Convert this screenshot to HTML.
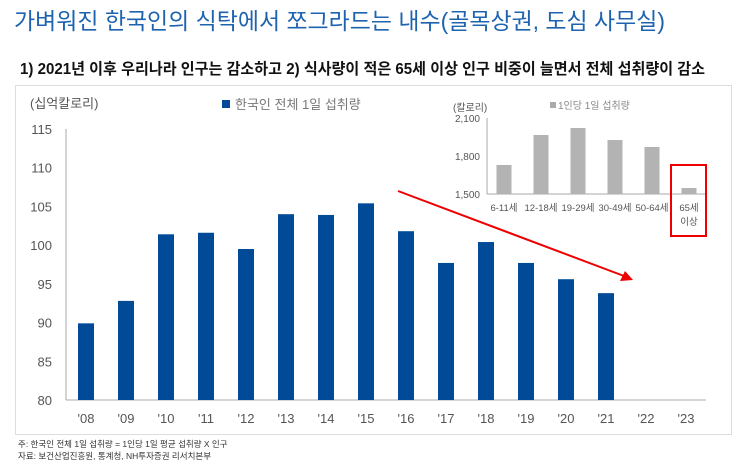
<!DOCTYPE html>
<html><head><meta charset="utf-8"><style>
body{margin:0;background:#fff;width:743px;height:467px;overflow:hidden;font-family:"Liberation Sans","Noto Sans CJK KR",sans-serif}
svg text{font-family:"Liberation Sans","Noto Sans CJK KR",sans-serif}
</style></head><body>
<svg width="743" height="467">
<text x="14" y="29" font-size="23" fill="#1e63b0" textLength="651" lengthAdjust="spacingAndGlyphs">가벼워진 한국인의 식탁에서 쪼그라드는 내수(골목상권, 도심 사무실)</text>
<text x="20" y="74" font-size="15.5" font-weight="bold" fill="#111" textLength="685" lengthAdjust="spacingAndGlyphs">1) 2021년 이후 우리나라 인구는 감소하고 2) 식사량이 적은 65세 이상 인구 비중이 늘면서 전체 섭취량이 감소</text>
<rect x="15.5" y="85.5" width="716" height="349" fill="none" stroke="#ddd"/>
<text x="30" y="108" font-size="13" fill="#555">(십억칼로리)</text>
<rect x="222" y="100" width="8" height="8" fill="#004a98"/>
<text x="235" y="109" font-size="13" fill="#777">한국인 전체 1일 섭취량</text>
<g id="main"></g>
<g id="inset"></g>
<rect x="671" y="165" width="35" height="71" fill="none" stroke="#e00" stroke-width="2"/>
<line x1="398" y1="191" x2="624" y2="276" stroke="#e00" stroke-width="2"/>
<polygon points="633,280 620,281 625,271" fill="#e00"/>
<text x="18" y="447" font-size="8.5" fill="#333">주: 한국인 전체 1일 섭취량 = 1인당 1일 평균 섭취량 X 인구</text>
<text x="18" y="459" font-size="8.5" fill="#333">자료: 보건산업진흥원, 통계청, NH투자증권 리서치본부</text>
</svg>
<script>
const categories=["'08","'09","'10","'11","'12","'13","'14","'15","'16","'17","'18","'19","'20","'21","'22","'23"];
const values=[89.9,92.8,101.4,101.6,99.5,104,103.9,105.4,101.8,97.7,100.4,97.7,95.6,93.8,null,null];
const yTicks=[80,85,90,95,100,105,110,115];
const insetCats=["6-11세","12-18세","19-29세","30-49세","50-64세","65세|이상"];
const insetVals=[1729,1966,2021,1926,1871,1547];
const insetTicks=[1500,1800,2100];
const NS="http://www.w3.org/2000/svg";
function mk(p,t,a,txt){const e=document.createElementNS(NS,t);for(const k in a)e.setAttribute(k,a[k]);if(txt!=null)e.textContent=txt;p.appendChild(e);return e;}
const g=document.getElementById('main');
const y=v=>400-(v-80)*(271/35);
const x=i=>86+i*40;
mk(g,'line',{x1:66,y1:129,x2:66,y2:400,stroke:'#aaa'});
mk(g,'line',{x1:66,y1:400,x2:706,y2:400,stroke:'#aaa'});
yTicks.forEach(t=>{const e=mk(g,'text',{x:52,y:y(t)+5,'font-size':13,fill:'#555','text-anchor':'end'},t);

});
categories.forEach((c,i)=>{const e=mk(g,'text',{x:x(i),y:423,'font-size':13,fill:'#555','text-anchor':'middle'},c);


if(values[i]!=null){const b=mk(g,'rect',{x:x(i)-8,y:y(values[i]),width:16,height:400-y(values[i]),fill:'#004a98'});

}});
const h=document.getElementById('inset');
const iy=v=>194-(v-1500)*(76/600);
const ix=i=>504+i*37;
mk(h,'text',{x:453,y:111,'font-size':10,fill:'#555'},'(칼로리)');
mk(h,'rect',{x:550,y:102,width:6,height:6,fill:'#aaa'});
mk(h,'text',{x:558,y:109,'font-size':10,fill:'#888'},'1인당 1일 섭취량');
mk(h,'line',{x1:487,y1:118,x2:487,y2:194,stroke:'#aaa'});
mk(h,'line',{x1:487,y1:194,x2:707,y2:194,stroke:'#aaa'});
insetTicks.forEach(t=>{const e=mk(h,'text',{x:480,y:iy(t)+4,'font-size':10,fill:'#555','text-anchor':'end'},t.toLocaleString('en-US'));

});
insetCats.forEach((c,i)=>{const parts=c.split('|');parts.forEach((p,j)=>{const e=mk(h,'text',{x:ix(i),y:211+j*14,'font-size':9.5,fill:'#555','text-anchor':'middle'},p);

});
const b=mk(h,'rect',{x:ix(i)-7.5,y:iy(insetVals[i]),width:15,height:194-iy(insetVals[i]),fill:'#b3b3b3'});

});
</script>
</body></html>
